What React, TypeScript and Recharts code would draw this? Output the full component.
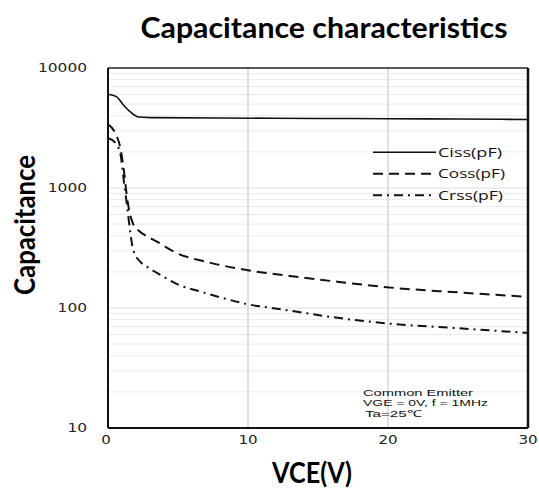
import { LineChart, Line, XAxis, YAxis, ReferenceLine, Legend } from 'recharts';

// Capacitance vs. collector-emitter voltage (log scale)
const cissVce = [0, 0.6, 1.1, 1.6, 2.2, 3, 8, 15, 20, 25, 30];
const cissPf = [6040, 5770, 4920, 4300, 3900, 3860, 3830, 3800, 3780, 3760, 3720];

const cossVce = [0, 0.5, 0.9, 1.15, 1.35, 1.55, 1.8, 2.2, 2.8, 3.5, 4.9, 7, 9.9, 13, 16.5, 19.9, 25, 30];
const cossPf = [3400, 2900, 2100, 1350, 850, 620, 500, 440, 395, 357, 287, 243, 207, 185, 165, 149, 135, 124];

const crssVce = [0, 0.5, 0.9, 1.15, 1.4, 1.6, 1.8, 2.3, 2.8, 3.5, 5.1, 6.6, 8.2, 9.9, 12.5, 16, 19.9, 25, 30];
const crssPf = [2600, 2400, 1880, 1100, 650, 420, 304, 243, 220, 196, 155, 137, 121, 108, 97, 84, 74.5, 67.8, 62];

const xTicks = [0, 10, 20, 30];
const yTicks = [10, 100, 1000, 10000];
const minorDecades = [10, 100, 1000];
const minorSteps = [2, 3, 4, 5, 6, 7, 8, 9];

const toPoints = (v: number[], c: number[]) => v.map((vce, i) => ({ vce, cap: c[i] }));

const cissData = toPoints(cissVce, cissPf);
const cossData = toPoints(cossVce, cossPf);
const crssData = toPoints(crssVce, crssPf);

const dashes: Record<string, string | undefined> = {
  'Ciss(pF)': undefined,
  'Coss(pF)': '10 6',
  'Crss(pF)': '9 5 2 5',
};
const legendWidths: Record<string, number> = { 'Ciss(pF)': 64, 'Coss(pF)': 67, 'Crss(pF)': 65 };

const YTick = ({ x, y, payload }: any) => {
  const label = String(payload.value);
  return (
    <text
      x={x}
      y={y}
      textAnchor="end"
      dominantBaseline="central"
      fontFamily="DejaVu Sans"
      fontSize={12}
      fill="#222"
      textLength={label.length * 9.8}
      lengthAdjust="spacingAndGlyphs"
    >
      {label}
    </text>
  );
};

const XTick = ({ x, y, payload }: any) => {
  const label = String(payload.value);
  return (
    <text
      x={x - (label.length === 1 ? 2 : 0)}
      y={y}
      textAnchor="middle"
      dominantBaseline="central"
      fontFamily="DejaVu Sans"
      fontSize={12}
      fill="#222"
      textLength={label.length * 9.6}
      lengthAdjust="spacingAndGlyphs"
    >
      {label}
    </text>
  );
};

const LegendBox = ({ payload }: any) => (
  <svg width={170} height={70}>
    {(payload || []).map((entry: any, i: number) => {
      const ly = 12.3 + i * 21.5;
      return (
        <g key={entry.value}>
          <line
            x1={13}
            x2={76}
            y1={ly}
            y2={ly}
            stroke="#111"
            strokeWidth={entry.value === 'Ciss(pF)' ? 1.6 : 2}
            strokeDasharray={dashes[entry.value]}
          />
          <text
            x={78}
            y={ly + 4.5}
            fontFamily="Open Sans"
            fontSize={12.5}
            fill="#111"
            textLength={legendWidths[entry.value]}
            lengthAdjust="spacingAndGlyphs"
          >
            {entry.value}
          </text>
        </g>
      );
    })}
  </svg>
);

export default function App() {
  return (
    <div style={{ position: 'absolute', left: 0, top: 0, width: 539, height: 492, background: '#fff' }}>
      <LineChart width={539} height={492} margin={{ top: 68, right: 11, bottom: 0, left: 8 }}>
        {minorDecades.flatMap((d) =>
          minorSteps.map((m) => (
            <ReferenceLine key={`h${d * m}`} y={d * m} stroke="#ebebeb" strokeWidth={1} />
          ))
        )}
        <ReferenceLine y={100} stroke="#dedede" strokeWidth={1} />
        <ReferenceLine y={1000} stroke="#dedede" strokeWidth={1} />
        <ReferenceLine x={10} stroke="#d6d6d6" strokeWidth={1.5} />
        <ReferenceLine x={20} stroke="#d6d6d6" strokeWidth={1.5} />
        <ReferenceLine y={10000} stroke="#222" strokeWidth={1.5} />
        <ReferenceLine x={30} stroke="#111" strokeWidth={2.5} />
        <XAxis
          dataKey="vce"
          type="number"
          domain={[0, 30]}
          ticks={xTicks}
          allowDataOverflow
          height={64}
          axisLine={{ stroke: '#111', strokeWidth: 2 }}
          tickLine={false}
          tickSize={0}
          tickMargin={12}
          tick={<XTick />}
        />
        <YAxis
          dataKey="cap"
          scale="log"
          type="number"
          domain={[10, 10000]}
          ticks={yTicks}
          allowDataOverflow
          width={100}
          axisLine={{ stroke: '#111', strokeWidth: 2 }}
          tickLine={false}
          tickSize={0}
          tickMargin={21}
          tick={<YTick />}
        />
        <Legend
          layout="horizontal"
          verticalAlign="middle"
          align="center"
          content={<LegendBox />}
          wrapperStyle={{ position: 'absolute', left: 360, top: 140, width: 170, height: 70 }}
        />
        <Line
          data={cissData}
          dataKey="cap"
          name="Ciss(pF)"
          type="monotone"
          stroke="#111"
          strokeWidth={1.6}
          dot={false}
          isAnimationActive={false}
        />
        <Line
          data={cossData}
          dataKey="cap"
          name="Coss(pF)"
          type="monotone"
          stroke="#111"
          strokeWidth={2}
          strokeDasharray="10 6"
          dot={false}
          isAnimationActive={false}
        />
        <Line
          data={crssData}
          dataKey="cap"
          name="Crss(pF)"
          type="monotone"
          stroke="#111"
          strokeWidth={2}
          strokeDasharray="9 5 2 5"
          dot={false}
          isAnimationActive={false}
        />
      </LineChart>
      <svg
        width={539}
        height={492}
        style={{ position: 'absolute', left: 0, top: 0, pointerEvents: 'none' }}
      >
        <text
          x={324}
          y={38}
          textAnchor="middle"
          fontFamily="Lato"
          fontWeight="bold"
          fontSize={28}
          fill="#000"
          textLength={367}
          lengthAdjust="spacingAndGlyphs"
        >
          Capacitance characteristics
        </text>
        <text
          x={312}
          y={483}
          textAnchor="middle"
          fontFamily="Lato"
          fontWeight="bold"
          fontSize={28}
          fill="#000"
          textLength={80}
          lengthAdjust="spacingAndGlyphs"
        >
          VCE(V)
        </text>
        <text
          x={35}
          y={225}
          textAnchor="middle"
          transform="rotate(-90 35 225)"
          fontFamily="Lato"
          fontWeight="bold"
          fontSize={28}
          fill="#000"
          textLength={140}
          lengthAdjust="spacingAndGlyphs"
        >
          Capacitance
        </text>
        <g fontFamily="Liberation Sans" fontSize={9.5} fill="#111">
          <text x={363} y={396} textLength={110} lengthAdjust="spacingAndGlyphs">
            Common Emitter
          </text>
          <text x={363} y={406} textLength={125} lengthAdjust="spacingAndGlyphs">
            VGE = 0V, f = 1MHz
          </text>
          <text x={365} y={416.5} textLength={56} lengthAdjust="spacingAndGlyphs">
            Ta=25℃
          </text>
        </g>
      </svg>
    </div>
  );
}
